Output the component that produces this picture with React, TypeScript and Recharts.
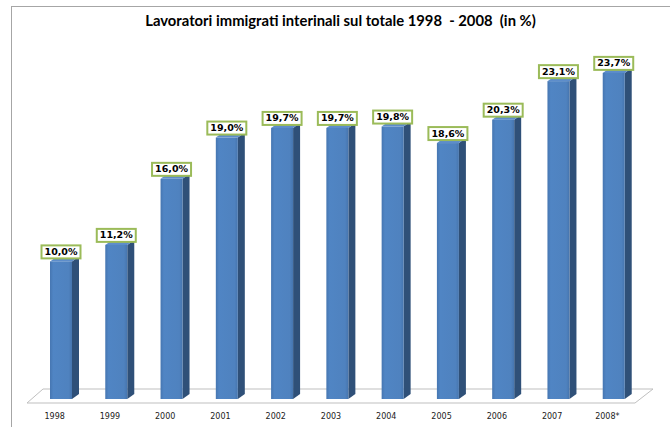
import { BarChart, Bar, XAxis, YAxis, LabelList, usePlotArea } from 'recharts'

const YEARS = ['1998', '1999', '2000', '2001', '2002', '2003', '2004', '2005', '2006', '2007', '2008*']
const SHARE = [10.0, 11.2, 16.0, 19.0, 19.7, 19.7, 19.8, 18.6, 20.3, 23.1, 23.7]
const TITLE = 'Lavoratori immigrati interinali sul totale 1998  - 2008  (in %)'

const data = YEARS.map((year, i) => ({ year, share: SHARE[i] }))

const fmt = (v: number) => v.toFixed(1).replace('.', ',') + '%'

function Bar3D(props: any) {
  const { x, y, width, height } = props
  const dx = 7
  const dy = 5
  return (
    <g>
      <polygon
        points={`${x + width},${y} ${x + width + dx},${y - dy} ${x + width + dx},${y + height - dy} ${x + width},${y + height}`}
        fill="#2F5078"
      />
      <polygon
        points={`${x},${y} ${x + dx},${y - dy} ${x + width + dx},${y - dy} ${x + width},${y}`}
        fill="#5D8DCB"
      />
      <rect x={x} y={y} width={width} height={height} fill="url(#front)" />
    </g>
  )
}

function Floor() {
  const area = usePlotArea()
  if (!area) return null
  const { x, y, width, height } = area
  const base = y + height
  const pts = [
    [x - 6, base + 4],
    [x + 10, base - 10],
    [x + width + 12, base - 10],
    [x + width - 6, base + 4],
  ]
  return (
    <polygon
      points={pts.map((p) => p.join(',')).join(' ')}
      fill="#ffffff"
      stroke="#bfbfbf"
      strokeWidth={1}
    />
  )
}

function ValueBox(props: any) {
  const { x, y, width, value } = props
  const cx = x + width / 2
  const w = 39
  const h = 13
  const top = y - 3 - h
  return (
    <g>
      <rect x={cx - w / 2} y={top} width={w} height={h} fill="#ffffff" stroke="#9BBB59" strokeWidth={2} />
      <text
        x={cx}
        y={top + h / 2 + 0.5}
        textAnchor="middle"
        dominantBaseline="middle"
        fontFamily="DejaVu Sans"
        fontWeight="bold"
        fontSize={9.5}
        fill="#000000"
      >
        {fmt(value)}
      </text>
    </g>
  )
}

function YearTick(props: any) {
  const { x, y, payload } = props
  return (
    <text x={x - 6} y={y + 12} textAnchor="middle" fontFamily="DejaVu Sans" fontSize={8} fill="#222222">
      {payload.value}
    </text>
  )
}

export default function App() {
  return (
    <div style={{ position: 'absolute', left: 0, top: 0, width: 670, height: 427, background: '#ffffff', overflow: 'hidden' }}>
      <div
        style={{
          position: 'absolute',
          left: 11,
          top: 6,
          width: 700,
          height: 440,
          borderLeft: '1.5px solid #a6a6a6',
          borderTop: '1.5px solid #a6a6a6',
        }}
      />
      <div
        style={{
          position: 'absolute',
          left: 0,
          width: 681,
          top: 11,
          textAlign: 'center',
          whiteSpace: 'pre',
          fontFamily: 'Lato',
          fontWeight: 'bold',
          fontSize: 14.8,
          color: '#000000',
        }}
      >
        {TITLE}
      </div>
      <div style={{ position: 'absolute', left: 0, top: 0 }}>
        <BarChart width={670} height={427} data={data} margin={{ top: 55, right: 29, bottom: 0, left: 33 }}>
          <defs>
            <linearGradient id="front" x1="0" y1="0" x2="1" y2="0">
              <stop offset="0%" stopColor="#4676B1" />
              <stop offset="15%" stopColor="#5085C4" />
              <stop offset="85%" stopColor="#4F82BF" />
              <stop offset="100%" stopColor="#4675AE" />
            </linearGradient>
          </defs>
          <Floor />
          <XAxis dataKey="year" height={28} axisLine={false} tickLine={false} tick={<YearTick />} interval={0} />
          <YAxis hide domain={[0, 25]} />
          <Bar dataKey="share" barSize={22} shape={<Bar3D />} isAnimationActive={false}>
            <LabelList dataKey="share" content={<ValueBox />} />
          </Bar>
        </BarChart>
      </div>
    </div>
  )
}
